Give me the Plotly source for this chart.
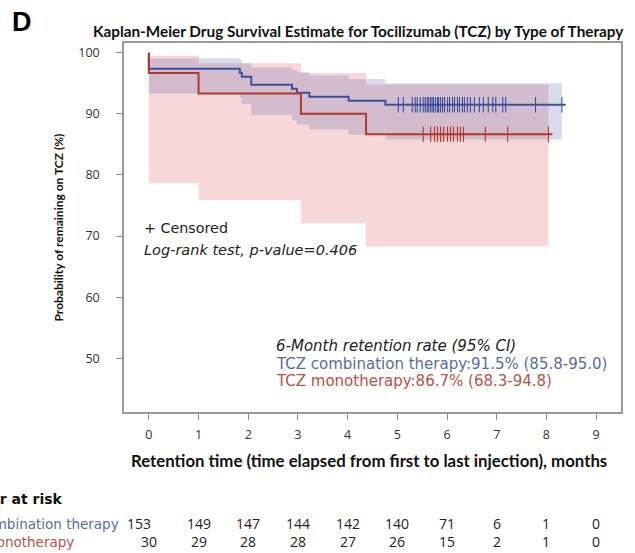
import plotly.graph_objects as go

# ---------------- data ----------------
months = list(range(10))

# TCZ combination therapy (KM estimate, %)
combo_t = [0, 1.83, 1.87, 2.06, 2.88, 2.98, 3.23, 4.02, 4.76]
combo_s = [97.39, 96.73, 96.08, 94.77, 94.12, 93.46, 92.81, 92.16, 91.50]
combo_hi = [99.1, 98.8, 98.3, 97.6, 97.2, 96.8, 96.3, 95.7, 95.0]
combo_lo = [93.3, 92.6, 91.6, 89.8, 88.9, 88.2, 87.4, 86.6, 85.8]
combo_end = 8.39
combo_band_end = 8.31
combo_cens = [5.02, 5.12, 5.30, 5.36, 5.40, 5.46, 5.52, 5.56, 5.60, 5.63, 5.67,
              5.70, 5.73, 5.77, 5.81, 5.83, 5.87, 5.91, 5.95, 6.01, 6.05, 6.11,
              6.15, 6.21, 6.25, 6.31, 6.35, 6.41, 6.47, 6.55, 6.65, 6.73, 6.83,
              6.92, 6.98, 7.12, 7.18, 7.78, 8.31]

# TCZ monotherapy
mono_t = [0, 1.0, 3.06, 4.37]
mono_s = [96.67, 93.33, 90.0, 86.67]
mono_hi = [99.5, 98.3, 96.7, 94.8]
mono_lo = [78.7, 75.9, 72.1, 68.3]
mono_end = 8.12
mono_band_end = 8.04
mono_cens = [5.52, 5.67, 5.75, 5.81, 5.87, 5.93, 6.01, 6.07, 6.13, 6.21, 6.27,
             6.33, 6.77, 7.22, 8.04]

combo_risk = [153, 149, 147, 144, 142, 140, 71, 6, 1, 0]
mono_risk = [30, 29, 28, 28, 27, 26, 15, 2, 1, 0]

start_value = 100

# ---------------- styling ----------------
BLUE = "#3e4f9c"
RED = "#b2392f"
BLUE_TXT = "#5a6aa8"
RED_TXT = "#b5524a"
BLUE_FILL = "rgba(95,105,175,0.24)"
RED_FILL = "rgba(226,112,112,0.28)"
TXT_FONT = "DejaVu Sans"
HEAD_FONT = "Lato"
NUM_FONT = "Open Sans"

# plot-area pixel geometry (used only to place text)
L, R, T, B = 124, 621, 43, 412
PW, PH = R - L, B - T


def px_x(x):
    return (x - L) / PW


def px_y(y):
    return (B - y) / PH


def step_line(t, v, end):
    xs, ys = [t[0]], [start_value]
    for i in range(len(t)):
        nxt = t[i + 1] if i + 1 < len(t) else end
        xs += [t[i], nxt]
        ys += [v[i], v[i]]
    return xs, ys


def band(t, hi, lo, end):
    xs, ys = [], []
    for i in range(len(t)):
        nxt = t[i + 1] if i + 1 < len(t) else end
        xs += [t[i], nxt]
        ys += [hi[i], hi[i]]
    for i in reversed(range(len(t))):
        nxt = t[i + 1] if i + 1 < len(t) else end
        xs += [nxt, t[i]]
        ys += [lo[i], lo[i]]
    return xs, ys


def value_at(t, v, x):
    val = v[0]
    for ti, vi in zip(t, v):
        if ti <= x:
            val = vi
    return val


fig = go.Figure()

# confidence bands
bx, by = band(mono_t, mono_hi, mono_lo, mono_band_end)
fig.add_trace(go.Scatter(x=bx, y=by, fill="toself", fillcolor=RED_FILL,
                         line=dict(width=0), mode="lines", hoverinfo="skip",
                         showlegend=False))
bx, by = band(combo_t, combo_hi, combo_lo, combo_band_end)
fig.add_trace(go.Scatter(x=bx, y=by, fill="toself", fillcolor=BLUE_FILL,
                         line=dict(width=0), mode="lines", hoverinfo="skip",
                         showlegend=False))

# KM step curves
lx, ly = step_line(combo_t, combo_s, combo_end)
fig.add_trace(go.Scatter(x=lx, y=ly, mode="lines",
                         line=dict(color=BLUE, width=2), showlegend=False))
lx, ly = step_line(mono_t, mono_s, mono_end)
fig.add_trace(go.Scatter(x=lx, y=ly, mode="lines",
                         line=dict(color=RED, width=2), showlegend=False))

# censor marks
fig.add_trace(go.Scatter(x=combo_cens,
                         y=[value_at(combo_t, combo_s, c) for c in combo_cens],
                         mode="markers",
                         marker=dict(symbol="line-ns", size=11,
                                     line=dict(color=BLUE, width=1.1)),
                         showlegend=False))
fig.add_trace(go.Scatter(x=mono_cens,
                         y=[value_at(mono_t, mono_s, c) for c in mono_cens],
                         mode="markers",
                         marker=dict(symbol="line-ns", size=11,
                                     line=dict(color=RED, width=1.1)),
                         showlegend=False))

ann = []


def add_text(text, x, y, xanchor="left", size=13, color="#222", family=TXT_FONT,
             **kw):
    ann.append(dict(text=text, x=px_x(x), y=px_y(y), xref="paper", yref="paper",
                    showarrow=False, xanchor=xanchor, yanchor="middle",
                    font=dict(family=family, size=size, color=color), **kw))


add_text("<b>D</b>", 10, 22, size=27, color="#000", family="Liberation Sans")
add_text("<b>Kaplan-Meier Drug Survival Estimate for Tocilizumab (TCZ) by Type of Therapy</b>",
         358, 31, xanchor="center", size=15.3, color="#111", family=HEAD_FONT)
add_text("<b>Probability of remaining on TCZ (%)</b>", 58, (T + B) / 2,
         xanchor="center", size=12, color="#111", family=HEAD_FONT, textangle=-90)
add_text("<b>Retention time (time elapsed from first to last injection), months</b>",
         369, 460, xanchor="center", size=16.8, color="#111", family=HEAD_FONT)

add_text("+ Censored", 142, 228, size=14.3)
add_text("<i>Log-rank test, p-value=0.406</i>", 142, 250, size=14.5)
add_text("<i>6-Month retention rate (95% CI)</i>", 274, 346, size=15)
add_text("TCZ combination therapy:91.5% (85.8-95.0)", 274, 364, size=15,
         color=BLUE_TXT)
add_text("TCZ monotherapy:86.7% (68.3-94.8)", 274, 381, size=15, color=RED_TXT)

add_text("<b>Number at risk</b>", 65, 499, xanchor="right", size=14, color="#111",
         family=TXT_FONT)
add_text("Combination therapy", -26, 524, size=13.5, color=BLUE_TXT)
add_text("Monotherapy", -17, 542, size=13.5, color=RED_TXT)

for i, (m, n) in enumerate(zip(months, combo_risk)):
    ann.append(dict(text=str(n), x=m, y=px_y(523), xref="x", yref="paper",
                    showarrow=False, xanchor="center", yanchor="middle",
                    xshift=-10 if i == 0 else 0,
                    font=dict(family=NUM_FONT, size=14, color="#222")))
for m, n in zip(months, mono_risk):
    ann.append(dict(text=str(n), x=m, y=px_y(541), xref="x", yref="paper",
                    showarrow=False, xanchor="center", yanchor="middle",
                    font=dict(family=NUM_FONT, size=14, color="#222")))

axis_common = dict(showgrid=False, zeroline=False, showline=True, mirror=True,
                   linecolor="#9a9a9a", linewidth=1.5, ticks="outside", ticklen=6,
                   tickcolor="#8a8a8a", tickwidth=1.2,
                   tickfont=dict(family=NUM_FONT, size=12.5, color="#333"))

fig.update_layout(
    width=635, height=553,
    margin=dict(l=L, r=635 - R, t=T, b=553 - B),
    paper_bgcolor="white", plot_bgcolor="white",
    xaxis=dict(range=[-0.5, 9.5], tickvals=months, ticklabelstandoff=4,
               **axis_common),
    yaxis=dict(range=[41.2, 101.6], tickvals=[50, 60, 70, 80, 90, 100],
               ticklabelstandoff=14, **axis_common),
    annotations=ann,
    showlegend=False,
)

fig.write_html("out.html",
               config={"displayModeBar": False},
               post_script="document.body.style.margin='0';"
                           "document.body.style.overflow='hidden';")
